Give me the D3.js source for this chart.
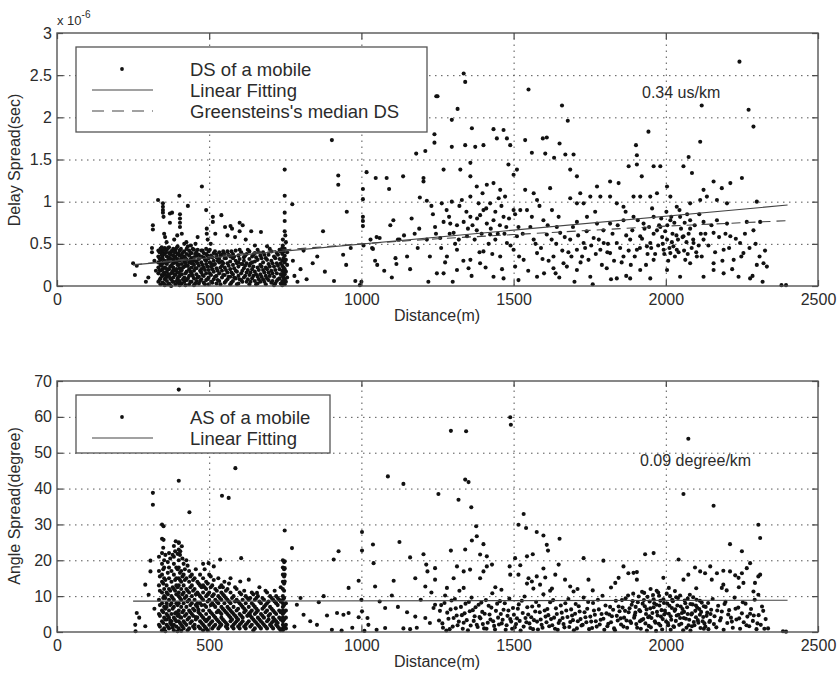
<!DOCTYPE html>
<meta charset="utf-8">
<script src="https://d3js.org/d3.v7.min.js"></script>
<style>
  body { margin: 0; background: #fff; }
  text { font-family: "Liberation Sans", Arial, Helvetica, sans-serif; fill: #2b2b2b; }
</style>
<div id="my_dataviz"></div>
<script>

// ---- axes ----
const xTicks = [0, 500, 1000, 1500, 2000, 2500];
const dsTicks = [0, 0.5, 1, 1.5, 2, 2.5, 3];
const dsTickLabels = ["0", "0.5", "1", "1.5", "2", "2.5", "3"];
const asTicks = [0, 10, 20, 30, 40, 50, 60, 70];

// ---- fitted lines ----
const fitDist = [250, 2400];
const dsFit = [0.25, 0.96];      // us, 0.34 us/km
const asFit = [8.6, 8.85];       // degree, 0.09 degree/km
const greenDist = [250, 500, 750, 1000, 1250, 1500, 1750, 2000, 2250, 2400];
const greenDs = [0.25, 0.35, 0.43, 0.5, 0.56, 0.61, 0.66, 0.71, 0.75, 0.775];

// ---- delay spread (us) : dense block near the base station, [distance, values...] ----
const dsBlock = [
  [333,[0.42,0.35,0.22,0.15,0.05,0.28]],[340,[0.40,0.31,0.18,0.09,0.02,0.44,0.25]],
  [347,[0.36,0.27,0.12,0.04,0.41,0.20,0.33]],[354,[0.38,0.22,0.08,0.30,0.14,0.45,0.01]],
  [361,[0.43,0.26,0.17,0.06,0.35,0.11]],[368,[0.39,0.29,0.20,0.03,0.12,0.46,0.34]],
  [375,[0.41,0.24,0.15,0.08,0.32,0.00,0.37]],[382,[0.44,0.36,0.27,0.19,0.10,0.05,0.31,0.22]],
  [389,[0.40,0.28,0.13,0.02,0.35,0.18,0.43]],[396,[0.38,0.25,0.09,0.32,0.16,0.04,0.47]],
  [403,[0.42,0.30,0.21,0.12,0.06,0.36,0.01]],[410,[0.37,0.26,0.14,0.03,0.33,0.19]],
  [418,[0.41,0.23,0.10,0.29,0.35,0.05]],[426,[0.44,0.31,0.17,0.07,0.24,0.38]],
  [434,[0.36,0.20,0.12,0.28,0.02,0.42]],[442,[0.39,0.27,0.15,0.05,0.33,0.22]],
  [450,[0.43,0.34,0.18,0.09,0.25,0.01,0.30]],[458,[0.40,0.29,0.14,0.06,0.36,0.21]],
  [466,[0.37,0.24,0.11,0.03,0.32]],[474,[0.42,0.28,0.16,0.08,0.35,0.20]],
  [482,[0.34,0.22,0.12,0.04,0.39]],[490,[0.38,0.26,0.15,0.30,0.07,0.44]],
  [498,[0.41,0.19,0.10,0.33,0.02]],[506,[0.36,0.27,0.13,0.23,0.05]],
  [515,[0.39,0.30,0.17,0.08,0.25]],[524,[0.34,0.21,0.12,0.03,0.37]],
  [533,[0.40,0.28,0.15,0.06,0.32]],[542,[0.37,0.24,0.10,0.18,0.29]],
  [551,[0.33,0.22,0.13,0.04,0.38]],[560,[0.41,0.27,0.16,0.08]],
  [569,[0.35,0.20,0.11,0.29,0.02]],[578,[0.38,0.25,0.14,0.06,0.33]],
  [587,[0.42,0.30,0.18,0.09]],[596,[0.36,0.23,0.12,0.03,0.28]],
  [605,[0.40,0.26,0.15,0.07]],[614,[0.34,0.21,0.10,0.30]],
  [623,[0.38,0.27,0.16,0.05]],[632,[0.41,0.24,0.13,0.32,0.02]],
  [641,[0.35,0.20,0.09,0.28]],[650,[0.39,0.29,0.17,0.06]],
  [659,[0.43,0.31,0.22,0.11,0.03]],[668,[0.36,0.25,0.14,0.05]],
  [677,[0.40,0.28,0.19,0.08]],[686,[0.33,0.22,0.12,0.02]],
  [695,[0.37,0.26,0.16,0.07]],[704,[0.41,0.30,0.18,0.04]],
  [713,[0.35,0.23,0.11,0.01]],[722,[0.39,0.27,0.15,0.06]],
  [731,[0.43,0.32,0.20,0.09]],[740,[0.45,0.38,0.30,0.24,0.18,0.12,0.06,0.01]],
  [748,[0.44,0.36,0.28,0.20,0.14,0.08,0.02]],[756,[0.40,0.25,0.10]]
];
// second pass over the same block, between the first columns
const dsBlock2 = [
  [337,[0.07,0.19,0.33,0.40]],[344,[0.13,0.24,0.37,0.46]],[351,[0.03,0.16,0.29,0.43]],
  [358,[0.10,0.21,0.40,0.27]],[365,[0.02,0.14,0.31,0.45]],[372,[0.09,0.23,0.38]],
  [379,[0.05,0.17,0.26,0.42]],[386,[0.14,0.33,0.40]],[393,[0.06,0.20,0.28,0.45]],
  [400,[0.11,0.25,0.39,0.16]],[407,[0.03,0.18,0.31,0.44]],[414,[0.08,0.22,0.40]],
  [422,[0.01,0.15,0.33,0.27]],[430,[0.09,0.24,0.47]],[438,[0.05,0.17,0.31,0.39]],
  [446,[0.12,0.29,0.44]],[454,[0.03,0.21,0.38]],[462,[0.10,0.27,0.43]],[470,[0.06,0.18,0.34]],
  [478,[0.13,0.25,0.42]],[486,[0.02,0.19,0.31]],[494,[0.08,0.23,0.36]],[502,[0.15,0.28,0.43]],
  [510,[0.04,0.20,0.34]],[519,[0.11,0.26,0.41]],[528,[0.07,0.18,0.30]],[537,[0.02,0.22,0.36]],
  [546,[0.13,0.27,0.41]],[555,[0.06,0.19,0.33]],[564,[0.11,0.24,0.37]],[573,[0.04,0.16,0.41]],
  [582,[0.10,0.21,0.35]],[591,[0.02,0.17,0.27]],[600,[0.08,0.32,0.43]],[609,[0.05,0.18,0.26]],
  [618,[0.12,0.24,0.36]],[627,[0.08,0.19,0.43]],[636,[0.05,0.16,0.27]],[645,[0.12,0.23,0.37]],
  [654,[0.02,0.14,0.34]],[663,[0.08,0.19,0.40]],[672,[0.11,0.23,0.33]],[681,[0.05,0.16,0.37]],
  [690,[0.09,0.20,0.31]],[699,[0.12,0.23,0.44]],[708,[0.06,0.15,0.27]],[717,[0.03,0.19,0.33]],
  [726,[0.08,0.24,0.37]],[735,[0.03,0.14,0.27,0.41]],[744,[0.04,0.10,0.16,0.22,0.33,0.41]],
  [752,[0.05,0.17,0.31]]
];

// scattered delay spread points [distance m, us]
const dsNear = [
  [250,0.27],[256,0.13],[262,0.24],[292,0.05],[300,0.10],[312,0.45],[312,0.40],[315,0.72],[315,0.67],
  [320,0.30],[325,0.18],[332,1.02],[348,0.98],[348,0.94],[348,0.90],[348,0.87],[350,0.82],[352,0.62],
  [355,0.58],[360,0.52],[371,0.86],[371,0.75],[378,0.87],[385,0.55],[395,0.60],[402,1.07],[404,0.85],
  [404,0.80],[404,0.75],[404,0.70],[410,0.62],[418,0.50],[425,0.52],[430,0.95],[440,0.48],[455,0.50],
  [462,0.58],[476,1.18],[490,0.90],[492,0.68],[492,0.62],[495,0.55],[505,0.50],[512,0.76],[512,0.82],
  [520,0.62],[540,0.84],[552,0.70],[560,0.60],[570,0.71],[575,0.68],[585,0.58],[600,0.75],[600,0.65],
  [610,0.72],[620,0.55],[638,0.65],[650,0.48],[670,0.64],[690,0.47],[742,0.55],[742,0.48],[748,0.87],
  [748,0.77],[748,0.65],[748,1.07],[748,1.38],[750,0.60],[752,0.52],[773,0.97]
];
const dsMid = [
  [775,0.30],[780,0.12],[790,0.05],[800,0.20],[810,0.42],[820,0.08],[840,0.27],[855,0.35],[874,0.65],
  [880,0.17],[903,1.73],[910,0.06],[924,1.31],[924,1.20],[940,0.37],[950,0.25],[952,0.88],[965,0.45],
  [980,0.06],[995,0.01],[1000,0.05],[1005,1.15],[1005,1.03],[1005,0.82],[1005,0.77],[1005,0.71],
  [1007,0.48],[1017,1.35],[1030,0.55],[1035,0.45],[1038,0.44],[1045,0.30],[1050,0.58],[1052,0.25],
  [1060,0.57],[1047,1.28],[1075,0.18],[1083,1.28],[1091,1.15],[1095,0.72],[1100,0.10],[1105,0.78],
  [1112,0.33],[1115,0.26],[1120,0.55],[1125,0.55],[1137,1.30],[1140,0.60],[1150,0.35],[1160,0.20],
  [1165,0.80],[1175,0.62],[1180,1.57],[1185,0.45],[1190,0.68],[1192,1.05],[1204,1.28],[1204,1.24],
  [1210,1.60],[1215,0.55],[1215,1.01],[1220,0.05],[1225,0.35],[1230,0.95],[1240,1.80],[1240,1.70],
  [1246,2.25],[1245,0.62],[1248,0.15],[1235,0.85],[1242,0.70]
];
const dsFar = [
  [1264,0.98],[1297,1.00],[1330,1.02],[1358,1.06],[1385,0.98],[1401,0.90],[1423,0.98],[1451,1.04],
  [1472,1.06],[1500,0.90],[1522,0.90],[1544,0.90],[1577,1.02],[1626,0.90],[1686,1.04],[1708,0.98],
  [1730,0.98],[1752,1.06],[1785,1.06],[1817,1.06],[1839,0.98],[1861,0.94],[1894,1.06],[1916,1.06],
  [1949,1.06],[1971,1.10],[2015,1.06],[2036,0.94],[2080,0.98],[2113,1.02],[2135,1.06],[2168,1.02],
  [2201,0.98],[2299,1.00],
  [1270,0.76],[1292,0.74],[1314,0.72],[1336,0.76],[1358,0.82],[1390,0.84],[1412,0.74],[1434,0.78],
  [1467,0.82],[1516,0.70],[1555,0.70],[1598,0.78],[1642,0.70],[1708,0.76],[1741,0.82],[1774,0.74],
  [1817,0.74],[1861,0.78],[1894,0.82],[1927,0.74],[1960,0.82],[1982,0.70],[2015,0.78],[2047,0.82],
  [2080,0.78],[2124,0.76],[2168,0.78],[2201,0.74],[2266,0.76],[2310,0.76],
  [1259,0.57],[1303,0.63],[1347,0.59],[1379,0.66],[1423,0.61],[1478,0.51],[1511,0.59],[1566,0.55],
  [1609,0.61],[1653,0.63],[1686,0.55],[1730,0.51],[1763,0.57],[1796,0.51],[1839,0.51],[1883,0.55],
  [1916,0.59],[1949,0.51],[1971,0.66],[2004,0.55],[2025,0.47],[2058,0.59],[2091,0.51],[2124,0.55],
  [2157,0.63],[2212,0.59],[2244,0.51],[2288,0.66],
  [1281,0.35],[1314,0.43],[1358,0.31],[1401,0.41],[1456,0.35],[1500,0.43],[1533,0.31],[1577,0.39],
  [1631,0.35],[1664,0.27],[1708,0.43],[1746,0.31],[1785,0.43],[1817,0.39],[1861,0.35],[1905,0.43],
  [1938,0.47],[1960,0.31],[1993,0.43],[2015,0.39],[2036,0.43],[2064,0.31],[2102,0.35],[2157,0.27],
  [2190,0.43],[2223,0.31],[2255,0.39],[2321,0.27],
  [1270,0.15],[1314,0.19],[1352,0.21],[1390,0.27],[1434,0.11],[1467,0.09],[1505,0.23],[1516,0.07],
  [1577,0.11],[1631,0.21],[1675,0.23],[1708,0.19],[1752,0.11],[1806,0.21],[1839,0.09],[1883,0.09],
  [1916,0.19],[1949,0.09],[2004,0.19],[2047,0.11],[2080,0.27],[2124,0.11],[2157,0.19],[2190,0.15],
  [2239,0.11],[2277,0.09],[2299,0.25],[2332,0.23],[2380,0.01],[2395,0.01],
  [1590,0.45],[1615,0.30],[1640,0.50],[1660,0.42],[1690,0.35],[1720,0.28],[1735,0.45],[1770,0.38],
  [1790,0.25],[1810,0.50],[1830,0.30],[1850,0.45],[1870,0.60],[1885,0.25],[1600,0.15],[1700,0.05],
  [1760,0.02],[1820,0.08],[1870,0.12],[1650,0.10],
  [1960,0.62],[1975,0.48],[1988,0.58],[1995,0.38],[2005,0.72],[2012,0.45],[2022,0.62],[2030,0.35],
  [2040,0.55],[2050,0.68],[2060,0.42],[2068,0.52],[1940,0.38],[1930,0.68],[1915,0.45],[2075,0.62],
  [2085,0.45],[2095,0.72],[2108,0.48],[2115,0.62],[1985,0.80],[2002,0.88],[2018,0.82],[2045,0.90],
  [1955,0.92],[2070,0.85],
  [1280,0.90],[1290,0.62],[1320,0.55],[1345,0.88],[1365,0.72],[1380,0.80],[1395,0.62],[1410,0.92],
  [1425,0.68],[1440,0.88],[1455,0.72],[1470,0.62],[1485,0.80],[1440,0.55],[1460,0.95]
];
const dsFar2 = [
  [1262,0.45],[1275,0.28],[1288,0.82],[1300,0.05],[1308,0.50],[1322,0.95],[1335,0.30],[1350,0.68],
  [1362,0.12],[1372,0.55],[1388,0.40],[1398,1.10],[1408,0.22],[1418,0.50],[1430,0.38],[1448,0.62],
  [1462,0.20],[1476,0.70],[1490,0.48],[1505,0.85],[1518,0.35],[1530,0.62],[1548,0.18],[1560,0.82],
  [1572,0.50],[1585,0.95],[1595,0.32],[1612,0.72],[1625,0.55],[1638,0.15],[1648,0.82],[1668,0.58],
  [1680,0.40],[1695,0.70],[1712,0.60],[1725,0.35],[1740,0.65],[1755,0.48],[1768,0.88],[1780,0.55],
  [1795,0.66],[1808,0.40],[1825,0.62],[1842,0.72],[1855,0.28],[1868,0.88],[1878,0.42],[1890,0.66],
  [1898,0.35],[1908,0.78],[1922,0.56],[1935,0.25],[1945,0.70],[1952,0.45],[1965,0.38],[1978,0.72],
  [1990,0.50],[1998,0.65],[2008,0.30],[2020,0.52],[2028,0.75],[2035,0.60],[2042,0.40],[2055,0.58],
  [2062,0.75],[2072,0.38],[2080,0.68],[2090,0.55],[2100,0.40],[2110,0.85],[2118,0.35],[2130,0.62],
  [2140,0.48],[2150,0.72],[2162,0.40],[2175,0.58],[2186,0.30],[2196,0.62],[2208,0.45],[2218,0.20],
  [2230,0.56],[2248,0.35],[2260,0.62],[2275,0.45],[2285,0.12],[2295,0.50],[2308,0.35],[2318,0.05],
  [2326,0.42]
];
const dsFarHigh = [
  [1270,1.38],[1325,1.38],[1358,1.46],[1358,1.30],[1379,1.18],[1412,1.20],[1434,1.22],[1456,1.14],
  [1483,1.44],[1500,1.32],[1511,1.38],[1538,1.14],[1566,1.10],[1620,1.16],[1686,1.38],[1708,1.30],
  [1719,1.10],[1774,1.18],[1817,1.24],[1845,1.22],[1878,1.42],[1905,1.44],[1921,1.30],[1960,1.42],
  [1982,1.42],[2004,1.18],[2058,1.42],[2075,1.53],[2086,1.34],[2124,1.14],[2157,1.24],[2184,1.16],
  [2212,1.22],[2250,1.28],
  [1297,1.65],[1341,1.67],[1374,1.65],[1401,1.67],[1434,1.86],[1445,1.75],[1478,1.75],[1489,1.67],
  [1538,1.73],[1560,1.58],[1596,1.75],[1609,1.76],[1651,1.69],[1604,1.57],[1633,1.52],[1670,1.56],
  [1697,1.56],[1902,1.67],[1905,1.55],[2113,1.71],[1943,1.83],[1363,1.87],[1297,1.97],[1250,2.25],
  [1316,2.10],[1336,2.52],[1341,2.42],[1549,2.33],[1659,2.14],[1678,1.96],[2118,2.14],[2272,2.09],
  [2288,1.89],[2242,2.66],[1467,1.85]
];

// ---- angle spread (degree) ----
const asBlock = [
  [335,[2,5,9,13,17,21]],[345,[0.5,3,6,8,11,14,16,19,22,26,30]],[352,[1,4,7,10,12,15,18,20]],
  [360,[2,5,8,11,3.5,13,7]],[368,[1,4,6,9,12,15,18,22]],[376,[3,5,8,10,14,17,2]],
  [384,[0.5,2,4,7,9,12,16,19,21,24]],[392,[1.5,3,5.5,8,10.5,13,15,18]],
  [400,[1,3,5,6,8,10,11,13,15,18,20,23,25]],[408,[2,4,7,9,12,14,17,0.3]],
  [416,[1,3,6,8,11,13,16,19]],[425,[2,5,7,10,12,15,20]],[434,[1,4,6,9,11,14,17]],
  [443,[3,5,8,10,13,16]],[452,[1,2,6,9,12,15]],[461,[4,7,8,11,14]],[470,[1,3,5,8,10,13,16]],
  [480,[0.5,2,4,6,9,11,13,15,19]],[490,[1,3,5,7,10,12,14]],[500,[2,4,6,9,11,16]],
  [510,[1,3,5,8,10,13]],[520,[2,4,7,9,12]],[530,[1,3,6,8,10,15]],[540,[2,4,5,7,9,11,13]],
  [550,[3,6,8,10,14]],[560,[1,2,5,7,9,12]],[570,[3,4,6,8,11]],[580,[1,2,5,7,10]],
  [590,[3,4,6,9,12]],[600,[1,2,5,8,11]],[610,[3,4,7,9]],[620,[1,2,6,8,10]],[630,[3,5,7,9]],
  [640,[2,4,6,8,11]],[650,[1,3,5,7,9]],[660,[2,4,6,10]],[670,[1,3,5,8]],[680,[2,4,7,9]],
  [690,[1,3,6,8,11]],[700,[2,5,7,10]],[710,[1,3,4,6,9]],[720,[2,3,5,8,10]],[730,[1,4,6,9]],
  [742,[0.5,1,2,3,4,5,6,7,8,9,10,12,14,16,18,20]],[752,[1,2,4,6,8]]
];
const asBlock2 = [
  [338,[1.5,4.5,7.5,11.5,15.5]],[349,[2.5,5.5,9.5,13.5,17.5,23.5]],[356,[0.2,3.5,6.5,9.5,14.5,21.5]],
  [364,[1.5,4.5,10.5,16.5,19.5]],[372,[2.5,3.2,7.5,11.5,20.5]],[380,[1.2,6.5,9.5,12.5,21.5]],
  [388,[3.5,5.2,11.5,14.5,22.5]],[396,[0.2,4.5,7.5,12.5,17.5,21.8]],[404,[2.5,4.2,9.5,14.5,16.5,21.5]],
  [412,[1.5,5.5,10.5,15.5,20.5]],[420,[2.5,4.5,9.5,14.5,17.5]],[429,[0.5,3.5,8.5,11.5,18.5]],
  [438,[2.5,5.5,7.5,12.5,15.5]],[447,[1.5,4.5,6.5,11.5,14.5]],[456,[3.5,4.2,7.5,10.5,17.5]],
  [465,[1.5,5.5,6.2,10.5,13.5]],[475,[2.5,4.5,7.5,9.5,12.5]],[485,[1.5,3.5,7.5,12.5,17.5]],
  [495,[0.5,3.5,8.5,10.5,13.5]],[505,[2.5,5.5,7.5,12.5,15.5]],[515,[1.5,4.5,7.5,10.5,14.5]],
  [525,[3.5,5.5,8.5,11.5]],[535,[1.5,2.5,5.5,9.5,12.5]],[545,[3.5,6.5,10.5,12.5]],
  [555,[1.5,2.5,5.5,9.5,11.5]],[565,[4.5,6.5,8.5,13.5]],[575,[1.5,3.5,5.5,9.5]],
  [585,[2.5,4.5,8.5,12.5]],[595,[1.5,3.5,6.5,8.5]],[605,[2.5,4.5,7.5,10.5]],[615,[1.5,5.5,6.5,11.5]],
  [625,[2.5,4.5,9.5]],[635,[1.5,4.5,5.5,9.5]],[645,[0.5,3.5,7.5,10.5]],[655,[2.5,5.5,6.5,9.5]],
  [665,[1.5,3.5,8.5,12.5]],[675,[2.5,4.5,6.5,9.5]],[685,[1.5,5.5,7.5,11.5]],[695,[3.5,4.5,8.5]],
  [705,[1.5,2.5,6.5,9.5]],[715,[3.5,5.5,8.5,11.5]],[725,[1.5,2.5,7.5,9.5]],[735,[0.5,3.5,5.5,8.5,12.5]],
  [746,[1.5,3.5,5.5,7.5,9.5,11.5,13.5,15.5,17.5,19.5]]
];
const asNear = [
  [400,67.6],[586,45.7],[400,42.2],[315,38.8],[315,35.5],[435,33.4],[542,38.0],[564,37.4],[748,28.3],
  [772,23.4],[350,29.5],[350,25.7],[390,25.3],[400,24.8],[410,23.9],[405,22.5],[307,19.9],[307,16.9],
  [290,13.2],[301,10.4],[262,5.3],[257,2.0],[258,0.2],[290,1.6],[498,19.2],[515,18.3],[536,20.2],
  [605,20.6],[570,15.0],[602,14.1],[630,14.6],[657,10.9],[748,19.7],[748,17.8],[748,16.0],[748,14.1],
  [270,4.0],[320,6.5]
];
const asMid = [
  [1087,43.4],[1138,41.3],[1125,25.1],[1038,24.4],[1002,27.9],[1002,22.7],[925,22.5],[909,20.2],
  [1160,20.8],[1204,21.7],[1213,18.8],[1217,16.9],[1242,17.8],[1242,14.6],[1040,19.2],[1106,14.3],
  [1177,15.0],[1210,12.7],[991,14.3],[958,12.3],[876,10.0],[1045,12.7],[1078,6.7],[941,4.8],[920,5.3],
  [887,4.6],[854,2.0],[903,0.6],[1020,3.9],[1023,2.0],[1050,0.6],[1078,1.1],[1138,1.0],[1160,0.8],
  [1182,1.2],[1177,4.3],[1210,3.9],[1237,6.7],[1242,7.6],[991,4.1],[1002,5.8],[958,5.3],[810,4.8],
  [832,3.0],[788,7.6],[780,1.5],[800,9.5],[1000,9.0],[1010,0.3],[1060,8.5],[1100,10.2],[1120,7.0],
  [1150,5.5],[1195,9.0],[1225,2.5],[1230,11.0],[970,1.2],[935,0.4],[860,8.3]
];
const asFarHigh = [
  [1253,38.5],[1294,56.1],[1344,56.0],[1489,59.9],[1491,57.8],[2074,53.9],[2058,38.5],[2157,35.2],
  [1319,36.9],[1341,42.5],[1352,41.8],[1361,34.8],[1377,29.5],[1379,26.7],[1363,25.5],[1341,23.0],
  [1294,22.7],[1401,24.5],[1412,21.1],[1390,21.6],[1533,32.9],[1516,29.9],[1541,29.0],[1576,27.9],
  [1598,26.9],[1609,24.3],[1613,22.7],[1651,26.0],[1505,20.6],[1487,18.3],[1544,21.1],[1563,21.7],
  [1522,18.6],[1549,15.0],[1576,15.5],[1598,17.7],[1604,15.2],[1565,12.1],[1587,13.2],[1626,12.1],
  [1637,16.0],[1648,18.8],[1730,20.6],[1746,14.6],[1669,14.6],[1686,12.7],[1697,11.3],[1861,18.3],
  [1877,16.4],[1905,16.7],[1845,15.1],[1834,13.7],[1905,14.6],[1932,21.7],[1960,22.0],[1992,15.1],
  [2042,20.2],[2058,14.6],[2074,16.0],[2096,18.0],[2113,16.9],[2129,16.4],[2151,14.6],[2168,16.4],
  [2146,18.3],[2189,17.1],[2211,24.5],[2211,16.9],[2228,15.8],[2239,15.1],[2250,22.5],[2255,13.7],
  [2277,19.2],[2304,15.5],[2310,16.0],[2304,29.9],[2310,26.2],[2184,12.3],[2189,13.2],[2266,17.8],
  [2250,16.4],[2293,13.7],[2288,11.3],[2304,10.4],[1314,18.3],[1336,16.9],[1357,17.4],[1303,15.0],
  [1281,12.3],[1336,12.3],[1390,15.0],[1401,16.9],[1429,18.8],[1412,18.3],[1489,16.0],[1516,16.0],
  [1544,13.5],[1560,14.1],[1795,19.9],[1894,16.5],[1440,12.5],[1460,11.8],[1620,11.5],[1710,12.0],
  [1760,11.6],[1820,12.4],[1950,12.0],[1970,11.5],[2010,12.3],[2030,11.4],[2100,12.2],[2200,11.6],
  [2240,12.5]
];
const asFar = [
  [1255,3.2],[1262,7.5],[1268,1.2],[1275,10.2],[1282,5.4],[1290,0.8],[1296,8.8],[1303,3.9],[1310,6.6],
  [1316,1.9],[1322,11.5],[1330,4.7],[1336,2.6],[1342,7.9],[1350,0.5],[1356,5.8],[1362,9.6],[1369,3.1],
  [1375,6.9],[1382,1.4],[1388,4.2],[1394,8.2],[1399,2.2],[1405,5.1],[1411,0.9],[1418,7.3],[1424,3.5],
  [1430,10.8],[1436,1.7],[1442,5.9],[1449,4.0],[1455,8.6],[1461,2.4],[1467,6.2],[1474,0.6],[1480,4.5],
  [1486,9.3],[1492,2.9],[1498,6.7],[1504,1.3],[1511,3.8],[1517,7.7],[1523,0.4],[1530,5.3],[1536,9.9],
  [1542,2.7],[1548,4.9],[1555,1.1],[1561,7.1],[1567,3.3],[1574,8.4],[1580,0.7],[1586,5.5],[1592,2.0],
  [1598,10.5],[1605,4.3],[1611,6.4],[1617,1.6],[1623,3.6],[1630,8.9],[1636,0.9],[1642,5.0],[1648,2.5],
  [1655,7.4],[1661,3.9],[1667,1.3],[1673,6.0],[1680,9.2],[1686,2.8],[1692,4.6],[1698,0.5],[1704,7.8],
  [1711,3.0],[1717,5.7],[1723,1.8],[1730,9.6],[1736,4.1],[1742,6.5],[1748,0.8],[1755,2.9],[1761,8.1],
  [1767,4.8],[1773,1.5],[1780,6.3],[1786,3.4],[1792,10.1],[1798,0.6],[1805,5.2],[1811,2.3],[1817,7.0],
  [1823,4.4],[1830,1.0],[1836,8.7],[1842,3.2],[1848,5.8],
  [1853,2.1],[1858,6.8],[1863,4.0],[1868,9.4],[1873,1.2],[1878,5.5],[1883,3.0],[1888,7.6],[1893,10.7],
  [1898,4.7],[1903,2.2],[1908,8.3],[1913,6.1],[1918,0.9],[1922,11.2],[1926,3.6],[1931,7.2],[1935,5.0],
  [1940,9.8],[1944,1.7],[1949,6.6],[1953,3.9],[1958,10.3],[1962,8.0],[1966,2.6],[1971,5.6],[1975,11.0],
  [1979,7.4],[1984,4.3],[1988,0.7],[1992,9.1],[1997,6.0],[2001,2.9],[2005,7.9],[2010,5.1],[2014,10.0],
  [2018,3.4],[2023,8.6],[2027,1.4],[2031,6.3],[2036,4.6],[2040,9.5],[2044,2.0],[2049,7.1],[2053,5.3],
  [2057,0.5],[2062,8.8],[2066,3.7],[2070,6.9],[2075,1.9],[2079,10.4],[2084,4.9],[2088,7.7],[2092,2.8],
  [2097,5.9],[2101,9.0],[2105,3.3],[2110,6.4],[2114,1.1],[2118,8.2],[2123,4.2],[2127,2.4],[2131,7.0],
  [2136,5.4],[2140,0.8],[2145,3.1],[2149,6.2],
  [1900,5.4],[1915,3.0],[1928,8.9],[1946,4.4],[1960,6.9],[1977,2.3],[1982,8.7],[1995,4.9],[2008,1.9],
  [2020,6.7],[2034,9.7],[2047,3.9],[2060,5.6],[2072,9.3],[2086,1.6],[2099,7.4],[2112,4.8],[1938,0.4],
  [1968,0.3],[2016,0.6],[2081,0.4],[2125,0.9],
  [2154,9.2],[2160,4.4],[2166,1.3],[2172,7.3],[2178,3.2],[2184,5.7],[2190,0.6],[2196,8.4],[2202,2.5],
  [2208,6.1],[2214,4.0],[2220,1.2],[2226,9.6],[2232,3.5],[2238,6.8],[2244,0.9],[2250,5.2],[2256,2.7],
  [2262,7.9],[2268,4.3],[2274,1.6],[2280,6.4],[2286,3.1],[2292,9.0],[2298,0.8],[2305,4.7],[2312,2.0],
  [2320,5.9],[2328,3.6],[2336,1.0],[2385,0.2],[2395,0.1]
];
const asFar2 = [
  [1258,5.9],[1266,2.4],[1273,8.1],[1279,0.4],[1286,3.7],[1293,6.3],[1300,1.5],[1307,9.2],[1313,4.6],
  [1320,2.9],[1327,7.0],[1333,0.9],[1339,5.2],[1346,3.3],[1353,8.4],[1359,1.8],[1366,6.1],[1372,4.4],
  [1379,2.0],[1385,7.6],[1391,3.8],[1397,5.6],[1403,1.0],[1409,8.9],[1415,2.6],[1421,4.9],[1427,6.8],
  [1433,3.0],[1439,0.7],[1446,7.9],[1452,2.1],[1458,5.0],[1464,3.4],[1471,8.0],[1477,1.9],[1483,6.0],
  [1489,3.6],[1495,0.9],[1501,4.8],[1508,2.2],[1514,6.5],[1520,3.1],[1527,8.7],[1533,1.5],[1539,3.9],
  [1545,6.9],[1552,2.4],[1558,4.1],[1564,0.8],[1571,5.7],[1577,2.9],[1583,7.3],[1589,3.5],[1595,1.2],
  [1602,6.0],[1608,2.7],[1614,4.7],[1620,8.3],[1627,1.9],[1633,4.0],[1639,6.6],[1645,0.6],[1652,3.2],
  [1658,5.4],[1664,2.2],[1670,8.0],[1677,4.2],[1683,1.4],[1689,6.3],[1695,3.3],[1702,5.1],[1708,1.0],
  [1714,7.2],[1720,3.6],[1727,2.0],[1733,5.5],[1739,2.7],[1745,8.4],[1752,4.3],[1758,1.1],[1764,6.0],
  [1770,3.0],[1777,9.0],[1783,2.1],[1789,5.0],[1795,3.7],[1802,7.4],[1808,1.6],[1814,4.9],[1820,2.7],
  [1827,6.2],[1833,0.5],[1839,4.5],[1845,7.1],[1852,3.8],[1856,8.9],[1861,1.5],[1866,5.9],[1871,3.2],
  [1876,10.2],[1881,6.6],[1886,2.5],[1891,8.6],[1896,4.0],[1901,7.0],[1906,1.2],[1911,9.9],[1916,5.8],
  [1920,3.3],[1924,7.9],[1929,10.9],[1933,2.4],[1937,6.3],[1942,4.1],[1947,8.5],[1951,1.3],[1956,5.3],
  [1960,9.1],[1964,3.0],[1969,7.6],[1973,4.6],[1978,10.1],[1982,1.8],[1986,6.1],[1990,3.6],[1994,8.1],
  [1999,5.3],[2003,10.7],[2007,2.5],[2012,7.3],[2016,4.4],[2021,9.0],[2025,1.6],[2029,5.9],[2033,3.1],
  [2038,7.4],[2042,4.8],[2047,10.2],[2051,2.3],[2055,6.4],[2059,3.9],[2064,8.0],[2068,1.2],[2072,5.0],
  [2077,3.4],[2081,7.8],[2086,5.2],[2090,9.7],[2094,1.9],[2099,4.1],[2103,6.8],[2107,2.6],[2112,8.7],
  [2116,5.6],[2121,3.0],[2125,7.2],[2130,1.5],[2134,4.5],[2139,8.1],[2143,2.8],[2147,5.0],[2158,2.2],
  [2169,6.0],[2181,3.9],[2193,7.8],[2205,4.9],[2217,2.9],[2229,6.5],[2241,3.8],[2253,8.3],[2265,1.9],
  [2277,5.1],[2289,4.6],[2301,2.4],[2316,7.1],[2324,0.9]
];

// flatten [distance, [values]] blocks into points
function unpack(block) {
  const out = [];
  block.forEach(([d, vals]) => vals.forEach(v => out.push([d, v])));
  return out;
}

const dsPoints = unpack(dsBlock).concat(unpack(dsBlock2), dsNear, dsMid, dsFar, dsFar2, dsFarHigh);
const asPoints = unpack(asBlock).concat(unpack(asBlock2), asNear, asMid, asFar, asFar2, asFarHigh);

// ---- layout ----
const width = 839, height = 680;
const left = 57, right = 818;

const svg = d3.select("#my_dataviz")
  .append("svg")
    .attr("width", width)
    .attr("height", height)
    .style("background", "#fff");

const x = d3.scaleLinear().domain([0, 2500]).range([left, right]);

function drawPanel(p) {
  const y = d3.scaleLinear().domain([p.ticks[0], p.ticks[p.ticks.length - 1]]).range([p.bottom, p.top]);
  const g = svg.append("g");
  const h = p.bottom - p.top, w = right - left;

  // dotted grid
  g.append("g")
    .attr("transform", `translate(0,${p.bottom})`)
    .call(d3.axisBottom(x).tickValues(xTicks.slice(1, -1)).tickSize(-h).tickFormat(""))
    .call(a => a.select(".domain").remove());
  g.append("g")
    .attr("transform", `translate(${left},0)`)
    .call(d3.axisLeft(y).tickValues(p.ticks.slice(1, -1)).tickSize(-w).tickFormat(""))
    .call(a => a.select(".domain").remove());
  g.selectAll("g.tick line")
    .attr("stroke", "#555")
    .attr("stroke-width", 1)
    .attr("stroke-dasharray", "1.5,4.5");

  // scatter
  g.append("g").selectAll("circle")
    .data(p.points)
    .join("circle")
      .attr("cx", d => x(d[0]))
      .attr("cy", d => y(d[1]))
      .attr("r", 2.05)
      .attr("fill", "#111");

  // fitted lines
  p.lines.forEach(l => {
    g.append("path")
      .datum(d3.zip(l.xs, l.ys))
      .attr("fill", "none")
      .attr("stroke", "#444")
      .attr("stroke-width", 1.1)
      .attr("stroke-dasharray", l.dash || null)
      .attr("d", d3.line().x(d => x(d[0])).y(d => y(d[1])));
  });

  // inward ticks on all four sides + labels
  const ax = g.append("g").attr("class", "frame");
  ax.append("g")
    .attr("transform", `translate(0,${p.bottom})`)
    .call(d3.axisBottom(x).tickValues(xTicks).tickSizeInner(-6).tickSizeOuter(0).tickPadding(8)
      .tickFormat(d => String(d)));
  ax.append("g")
    .attr("transform", `translate(0,${p.top})`)
    .call(d3.axisTop(x).tickValues(xTicks).tickSizeInner(-6).tickSizeOuter(0).tickFormat(""));
  ax.append("g")
    .attr("transform", `translate(${left},0)`)
    .call(d3.axisLeft(y).tickValues(p.ticks).tickSizeInner(-6).tickSizeOuter(0).tickPadding(5)
      .tickFormat((d, i) => p.labels[i]));
  ax.append("g")
    .attr("transform", `translate(${right},0)`)
    .call(d3.axisRight(y).tickValues(p.ticks).tickSizeInner(-6).tickSizeOuter(0).tickFormat(""));
  ax.selectAll(".domain").remove();
  ax.selectAll("line").attr("stroke", "#444").attr("stroke-width", 1.2);
  ax.selectAll("text").style("font-size", "16px").attr("fill", "#2b2b2b");

  g.append("rect")
    .attr("x", left).attr("y", p.top)
    .attr("width", w).attr("height", h)
    .attr("fill", "none").attr("stroke", "#555").attr("stroke-width", 1.4);

  // axis titles
  g.append("text")
    .attr("x", 437).attr("y", p.bottom + 35)
    .attr("text-anchor", "middle")
    .style("font-size", "16px")
    .text("Distance(m)");
  g.append("text")
    .attr("transform", `translate(20,${p.yTitleY}) rotate(-90)`)
    .attr("text-anchor", "middle")
    .style("font-size", "16px")
    .text(p.yTitle);

  // legend
  const lg = g.append("g");
  lg.append("rect")
    .attr("x", p.legend.x).attr("y", p.legend.y)
    .attr("width", p.legend.w).attr("height", p.legend.h)
    .attr("fill", "#fff").attr("stroke", "#555").attr("stroke-width", 1.3);
  p.legend.items.forEach((it, i) => {
    const cy = p.legend.y + 22 + i * 21;
    if (it.type === "dot") {
      lg.append("circle").attr("cx", 122).attr("cy", cy).attr("r", 1.9).attr("fill", "#111");
    } else {
      lg.append("line")
        .attr("x1", 92).attr("x2", 153).attr("y1", cy).attr("y2", cy)
        .attr("stroke", "#444").attr("stroke-width", 1.1)
        .attr("stroke-dasharray", it.type === "dash" ? "12,8" : null);
    }
    lg.append("text")
      .attr("x", 190).attr("y", cy + 6.5)
      .style("font-size", "18.5px")
      .text(it.label);
  });

  // slope note
  g.append("text")
    .attr("x", p.note.x).attr("y", p.note.y)
    .style("font-size", "16px")
    .text(p.note.text);
}

// top panel : delay spread
drawPanel({
  top: 33, bottom: 286,
  ticks: dsTicks, labels: dsTickLabels,
  points: dsPoints,
  lines: [
    {xs: fitDist, ys: dsFit},
    {xs: greenDist, ys: greenDs, dash: "9,6"}
  ],
  yTitle: "Delay Spread(sec)", yTitleY: 160,
  legend: {x: 76, y: 47, w: 351, h: 85, items: [
    {type: "dot", label: "DS of a mobile"},
    {type: "line", label: "Linear Fitting"},
    {type: "dash", label: "Greensteins's median DS"}
  ]},
  note: {x: 642, y: 98, text: "0.34 us/km"}
});

// exponent of the delay axis
const expo = svg.append("text").attr("x", 57).attr("y", 25).style("font-size", "13px");
expo.append("tspan").text("x 10");
expo.append("tspan").attr("dy", -7).style("font-size", "10px").text("-6");

// bottom panel : angle spread
drawPanel({
  top: 381, bottom: 632,
  ticks: asTicks, labels: asTicks.map(String),
  points: asPoints,
  lines: [{xs: fitDist, ys: asFit}],
  yTitle: "Angle Spread(degree)", yTitleY: 506,
  legend: {x: 76, y: 395, w: 254, h: 58, items: [
    {type: "dot", label: "AS of a mobile"},
    {type: "line", label: "Linear Fitting"}
  ]},
  note: {x: 640, y: 466, text: "0.09 degree/km"}
});

</script>
